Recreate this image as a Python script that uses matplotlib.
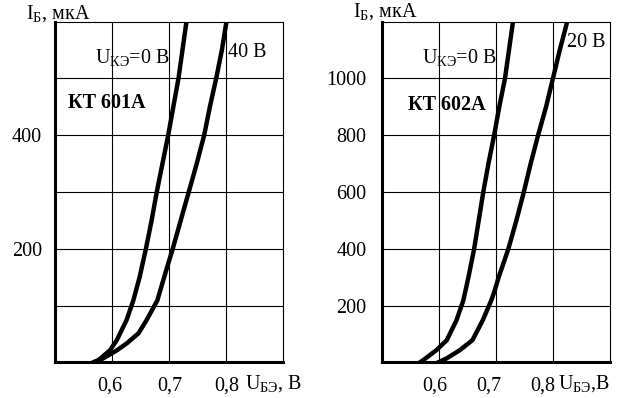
import matplotlib
matplotlib.use('Agg')
import matplotlib.pyplot as plt
from matplotlib.transforms import ScaledTranslation

plt.rcParams['font.family'] = ['Liberation Serif', 'DejaVu Serif']
plt.rcParams['mathtext.fontset'] = 'custom'
plt.rcParams['mathtext.rm'] = 'Liberation Serif'
plt.rcParams['mathtext.it'] = 'Liberation Serif:italic'
plt.rcParams['mathtext.bf'] = 'Liberation Serif:bold'

# ---- data: KT601A ----
u601_0v = [0.568, 0.577, 0.597, 0.609, 0.626, 0.638, 0.649, 0.660, 0.670, 0.679, 0.689,
           0.699, 0.708, 0.717, 0.724, 0.731]
i601_0v = [0, 4, 21, 39, 74, 109, 150, 200, 250, 300, 350, 400, 450, 500, 550, 600]
u601_40v = [0.570, 0.580, 0.594, 0.609, 0.626, 0.647, 0.661, 0.680, 0.692, 0.697, 0.707,
            0.721, 0.735, 0.749, 0.762, 0.772, 0.783, 0.793, 0.801]
i601_40v = [0, 4, 12, 21, 33, 51, 74, 109, 150, 167, 200, 250, 300, 350, 400, 450, 500,
            550, 600]

# ---- data: KT602A ----
u602_0v = [0.567, 0.573, 0.596, 0.614, 0.631, 0.643, 0.652, 0.662, 0.670, 0.678, 0.687,
           0.697, 0.706, 0.716, 0.723, 0.730]
i602_0v = [0, 8, 43, 78, 148, 218, 300, 400, 500, 600, 700, 800, 900, 1000, 1100, 1200]
u602_20v = [0.599, 0.614, 0.637, 0.659, 0.677, 0.692, 0.698, 0.705, 0.722, 0.736, 0.749,
            0.761, 0.774, 0.788, 0.800, 0.812, 0.825]
i602_20v = [0, 14, 43, 78, 148, 218, 253, 300, 400, 500, 600, 700, 800, 900, 1000, 1100,
            1200]

x_ticks = [0.6, 0.7, 0.8]
x_ticklabels = ['0,6', '0,7', '0,8']
y_ticks_601 = [100, 200, 300, 400, 500]
y_labels_601 = ['', '200', '', '400', '']
y_ticks_602 = [200, 400, 600, 800, 1000]
y_labels_602 = ['200', '400', '600', '800', '1000']

W, H = 631, 398
fig = plt.figure(figsize=(W / 100, H / 100), dpi=100)


def px_axes(l, r, t, b):
    return fig.add_axes([l / W, 1 - b / H, (r - l) / W, (b - t) / H])


def ftext(x, y, s, **kw):
    fig.text(x / W, 1 - y / H, s, va='baseline', ha='left', color='black', **kw)


FS = 14.5


def style(ax, ymax, yt, yl, ypad, xoffs):
    ax.set_xlim(0.5, 0.9)
    ax.set_ylim(0, ymax)
    ax.set_xticks(x_ticks)
    ax.set_xticklabels(x_ticklabels, fontsize=FS)
    ax.set_yticks(yt)
    ax.set_yticklabels(yl, fontsize=FS)
    ax.tick_params(length=0)
    ax.tick_params(axis='x', pad=10)
    ax.tick_params(axis='y', pad=ypad)
    ax.grid(True, color='black', linewidth=0.8)
    ax.set_axisbelow(True)
    for s in ['left', 'bottom']:
        ax.spines[s].set_linewidth(2.2)
    for s in ['top', 'right']:
        ax.spines[s].set_linewidth(0.8)
    for lab, dx in zip(ax.get_xticklabels(), xoffs):
        lab.set_transform(lab.get_transform() + ScaledTranslation(dx / 100, 0, fig.dpi_scale_trans))


LW = 3.2
ax1 = px_axes(54.5, 283, 21.7, 362.3)
style(ax1, 600, y_ticks_601, y_labels_601, 9, [-2, 1, 1])
ax1.plot(u601_0v, i601_0v, color='black', lw=LW, solid_joinstyle='round')
ax1.plot(u601_40v, i601_40v, color='black', lw=LW, solid_joinstyle='round')

ax2 = px_axes(381.7, 610, 21.7, 362.3)
style(ax2, 1200, y_ticks_602, y_labels_602, 11, [-4, -7, -10])
ax2.plot(u602_0v, i602_0v, color='black', lw=LW, solid_joinstyle='round')
ax2.plot(u602_20v, i602_20v, color='black', lw=LW, solid_joinstyle='round')

# texts, left panel
ftext(26, 19, r'$\mathrm{I_{Б}}$, мкА', fontsize=FS)
ftext(95, 63, r'$\mathrm{U_{КЭ}}$=0 В', fontsize=FS)
ftext(228, 57, '40 В', fontsize=FS)
ftext(68, 108, 'КТ 601А', fontsize=FS, fontweight='bold')
ftext(245, 389, r'$\mathrm{U_{БЭ}}$, В', fontsize=FS)

# texts, right panel
ftext(353, 17, r'$\mathrm{I_{Б}}$, мкА', fontsize=FS)
ftext(422, 63, r'$\mathrm{U_{КЭ}}$=0 В', fontsize=FS)
ftext(567, 47, '20 В', fontsize=FS)
ftext(408, 110, 'КТ 602А', fontsize=FS, fontweight='bold')
ftext(558, 389, r'$\mathrm{U_{БЭ}}$,В', fontsize=FS)

fig.savefig('out.png', dpi=100)
